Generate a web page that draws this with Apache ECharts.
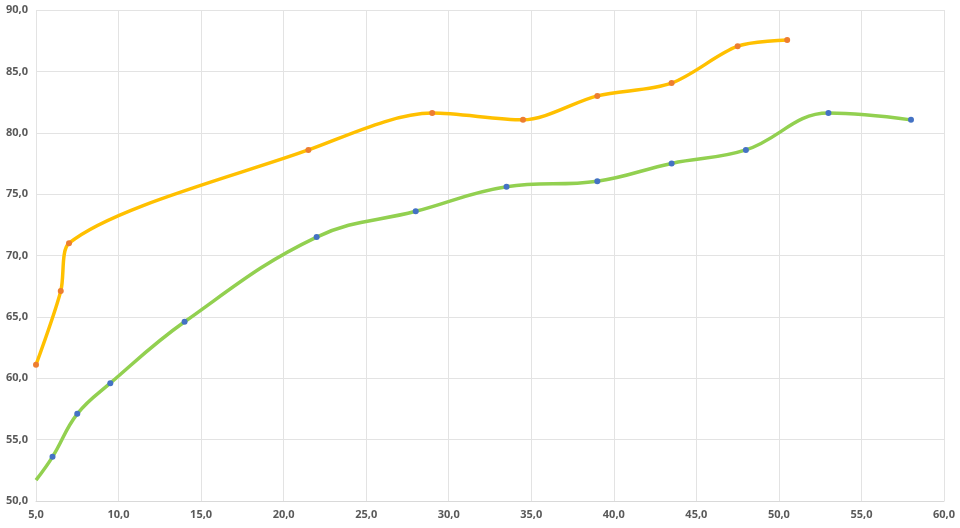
<!DOCTYPE html>
<html><head><meta charset="utf-8">
<script src="https://cdn.jsdelivr.net/npm/echarts@6/dist/echarts.min.js"></script>
<style>html,body{margin:0;padding:0;background:#fff}#c{width:960px;height:528px}</style>
</head><body><div id="c"></div>
<script>
var yellowX = [5, 6.5, 7, 21.5, 29, 34.5, 39, 43.5, 47.5, 50.5];
var yellowY = [61.1, 67.1, 71.0, 78.6, 81.6, 81.05, 83.0, 84.05, 87.05, 87.55];
var greenX = [5, 6, 7.5, 9.5, 14, 22, 28, 33.5, 39, 43.5, 48, 53, 58];
var greenY = [51.7, 53.6, 57.1, 59.6, 64.6, 71.5, 73.6, 75.6, 76.05, 77.5, 78.6, 81.6, 81.05];
var xTicks = {min: 5, max: 60, interval: 5};
var yTicks = {min: 50, max: 90, interval: 5};

function pairs(xs, ys, hideFirst) {
  return xs.map(function (x, i) {
    var d = {value: [x, ys[i]]};
    if (hideFirst && i === 0) d.symbolSize = 0;
    return d;
  });
}
var fmt = function (v) { return v.toFixed(1).replace('.', ','); };
var labelStyle = {color: '#595959', fontFamily: 'Open Sans', fontWeight: 'bold', fontSize: 11};
var gridLine = {lineStyle: {color: '#e3e3e3', width: 1}};

var chart = echarts.init(document.getElementById('c'), null, {renderer: 'canvas'});
chart.setOption({
  animation: false,
  backgroundColor: '#fff',
  grid: {left: 36, right: 16, top: 10, bottom: 27, containLabel: false},
  xAxis: {
    type: 'value', min: xTicks.min, max: xTicks.max, interval: xTicks.interval,
    axisLine: {show: true, lineStyle: {color: '#d9d9d9'}},
    axisTick: {show: false},
    splitLine: {show: true, lineStyle: gridLine.lineStyle},
    axisLabel: Object.assign({formatter: fmt, margin: 8}, labelStyle)
  },
  yAxis: {
    type: 'value', min: yTicks.min, max: yTicks.max, interval: yTicks.interval,
    axisLine: {show: false},
    axisTick: {show: false},
    splitLine: {show: true, lineStyle: gridLine.lineStyle},
    axisLabel: Object.assign({formatter: fmt, margin: 8}, labelStyle)
  },
  series: [
    {
      type: 'line', smooth: 0.3, data: pairs(yellowX, yellowY, false),
      symbol: 'circle', symbolSize: 6,
      lineStyle: {color: '#FFC000', width: 3.5},
      itemStyle: {color: '#ED7D31'}, z: 3
    },
    {
      type: 'line', smooth: 0.4, data: pairs(greenX, greenY, true),
      symbol: 'circle', symbolSize: 6,
      lineStyle: {color: '#92D050', width: 3.5},
      itemStyle: {color: '#4472C4'}, z: 3
    }
  ]
});
</script></body></html>
